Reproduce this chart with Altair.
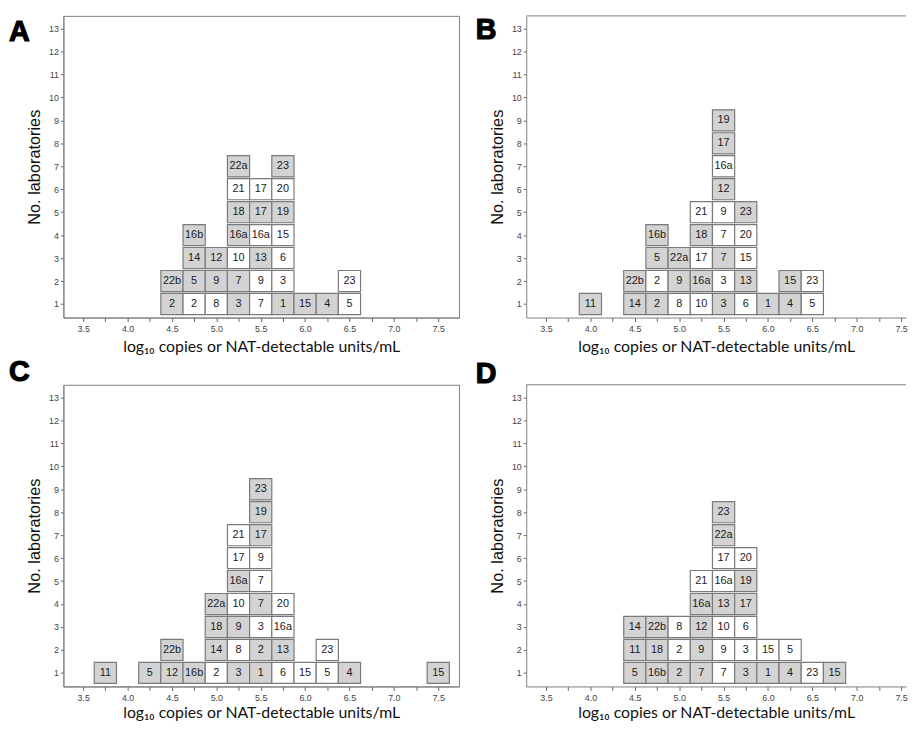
import altair as alt
import pandas as pd

# ---------------- data (label, bin centre on log10 scale, stack row, gray=1 / white=0)
A_label = ["2", "2", "8", "3", "7", "1", "15", "4", "5",
           "22b", "5", "9", "7", "9", "3", "23",
           "14", "12", "10", "13", "6",
           "16b", "16a", "16a", "15",
           "18", "17", "19",
           "21", "17", "20",
           "22a", "23"]
A_x = [4.5, 4.75, 5.0, 5.25, 5.5, 5.75, 6.0, 6.25, 6.5,
       4.5, 4.75, 5.0, 5.25, 5.5, 5.75, 6.5,
       4.75, 5.0, 5.25, 5.5, 5.75,
       4.75, 5.25, 5.5, 5.75,
       5.25, 5.5, 5.75,
       5.25, 5.5, 5.75,
       5.25, 5.75]
A_row = [1, 1, 1, 1, 1, 1, 1, 1, 1,
         2, 2, 2, 2, 2, 2, 2,
         3, 3, 3, 3, 3,
         4, 4, 4, 4,
         5, 5, 5,
         6, 6, 6,
         7, 7]
A_gray = [1, 0, 0, 1, 0, 1, 1, 1, 0,
          1, 1, 1, 1, 0, 0, 0,
          1, 1, 0, 1, 0,
          1, 1, 0, 0,
          1, 1, 1,
          0, 0, 0,
          1, 1]

B_label = ["11", "14", "2", "8", "10", "3", "6", "1", "4", "5",
           "22b", "2", "9", "16a", "3", "13", "15", "23",
           "5", "22a", "17", "7", "15",
           "16b", "18", "7", "20",
           "21", "9", "23",
           "12", "16a", "17", "19"]
B_x = [4.0, 4.5, 4.75, 5.0, 5.25, 5.5, 5.75, 6.0, 6.25, 6.5,
       4.5, 4.75, 5.0, 5.25, 5.5, 5.75, 6.25, 6.5,
       4.75, 5.0, 5.25, 5.5, 5.75,
       4.75, 5.25, 5.5, 5.75,
       5.25, 5.5, 5.75,
       5.5, 5.5, 5.5, 5.5]
B_row = [1, 1, 1, 1, 1, 1, 1, 1, 1, 1,
         2, 2, 2, 2, 2, 2, 2, 2,
         3, 3, 3, 3, 3,
         4, 4, 4, 4,
         5, 5, 5,
         6, 7, 8, 9]
B_gray = [1, 1, 1, 0, 0, 1, 0, 1, 1, 0,
          1, 0, 1, 1, 0, 1, 1, 0,
          1, 1, 0, 1, 0,
          1, 1, 0, 0,
          0, 0, 1,
          1, 0, 1, 1]

C_label = ["11", "5", "12", "16b", "2", "3", "1", "6", "15", "5", "4", "15",
           "22b", "14", "8", "2", "13", "23",
           "18", "9", "3", "16a",
           "22a", "10", "7", "20",
           "16a", "7",
           "17", "9",
           "21", "17",
           "19", "23"]
C_x = [3.75, 4.25, 4.5, 4.75, 5.0, 5.25, 5.5, 5.75, 6.0, 6.25, 6.5, 7.5,
       4.5, 5.0, 5.25, 5.5, 5.75, 6.25,
       5.0, 5.25, 5.5, 5.75,
       5.0, 5.25, 5.5, 5.75,
       5.25, 5.5,
       5.25, 5.5,
       5.25, 5.5,
       5.5, 5.5]
C_row = [1, 1, 1, 1, 1, 1, 1, 1, 1, 1, 1, 1,
         2, 2, 2, 2, 2, 2,
         3, 3, 3, 3,
         4, 4, 4, 4,
         5, 5,
         6, 6,
         7, 7,
         8, 9]
C_gray = [1, 1, 1, 1, 0, 1, 1, 0, 0, 0, 1, 1,
          1, 1, 0, 1, 1, 0,
          1, 1, 0, 0,
          1, 0, 1, 0,
          1, 0,
          0, 0,
          0, 1,
          1, 1]

D_label = ["5", "16b", "2", "7", "7", "3", "1", "4", "23", "15",
           "11", "18", "2", "9", "9", "3", "15", "5",
           "14", "22b", "8", "12", "10", "6",
           "16a", "13", "17",
           "21", "16a", "19",
           "17", "20",
           "22a", "23"]
D_x = [4.5, 4.75, 5.0, 5.25, 5.5, 5.75, 6.0, 6.25, 6.5, 6.75,
       4.5, 4.75, 5.0, 5.25, 5.5, 5.75, 6.0, 6.25,
       4.5, 4.75, 5.0, 5.25, 5.5, 5.75,
       5.25, 5.5, 5.75,
       5.25, 5.5, 5.75,
       5.5, 5.75,
       5.5, 5.5]
D_row = [1, 1, 1, 1, 1, 1, 1, 1, 1, 1,
         2, 2, 2, 2, 2, 2, 2, 2,
         3, 3, 3, 3, 3, 3,
         4, 4, 4,
         5, 5, 5,
         6, 6,
         7, 8]
D_gray = [1, 1, 1, 1, 0, 1, 1, 1, 0, 1,
          1, 1, 0, 1, 0, 0, 0, 0,
          1, 1, 0, 1, 0, 0,
          1, 1, 1,
          0, 0, 1,
          0, 0,
          1, 1]

x_tick_values = [3.5, 3.75, 4.0, 4.25, 4.5, 4.75, 5.0, 5.25, 5.5, 5.75,
                 6.0, 6.25, 6.5, 6.75, 7.0, 7.25, 7.5]
y_tick_values = [1, 2, 3, 4, 5, 6, 7, 8, 9, 10, 11, 12, 13]

X_TITLE = "log\u2081\u2080 copies or NAT-detectable units/mL"
Y_TITLE = "No. laboratories"

H = 305
PX_PER_UNIT = 89.75
X_MIN = 3.277
Y_DOMAIN = [0.41, 13.55]
FRAME = "#7f7f7f"


def panel(labels, xs, rows, grays, letter, lx, ly, width, title_pad, open_right):
    df = pd.DataFrame({"label": labels, "x": xs, "row": rows,
                       "shade": ["g" if g else "w" for g in grays]})
    xscale = alt.Scale(domain=[X_MIN, X_MIN + width / PX_PER_UNIT], nice=False, zero=False)
    yscale = alt.Scale(domain=Y_DOMAIN, nice=False, zero=False)
    base = alt.Chart(df).transform_calculate(
        x0="datum.x - 0.125", x1="datum.x + 0.125",
        y0="datum.row - 0.46", y1="datum.row + 0.46")
    xaxis = alt.Axis(values=x_tick_values,
                     labelExpr="(datum.value * 2) % 1 == 0 ? format(datum.value, '.1f') : ''",
                     labelOverlap=False, grid=False,
                     title=X_TITLE, titleFont="Lato", titleFontSize=16,
                     titleFontWeight="normal", titleColor="#111111", titlePadding=title_pad,
                     labelFont="Liberation Sans", labelFontSize=9, labelColor="#444444",
                     labelPadding=3, tickSize=4, tickColor="#666666",
                     domainColor=FRAME)
    yaxis = alt.Axis(values=y_tick_values, grid=False, labelOverlap=False,
                     title=Y_TITLE, titleFont="Liberation Sans", titleFontSize=16.5,
                     titleFontWeight="normal", titleColor="#111111", titlePadding=6,
                     labelFont="Liberation Sans", labelFontSize=9, labelColor="#444444",
                     labelPadding=2, tickSize=3, tickColor="#666666",
                     domainColor=FRAME)
    rects = base.mark_rect(stroke="#7a7a7a", strokeWidth=1.2).encode(
        x=alt.X("x0:Q", scale=xscale, axis=xaxis),
        x2="x1:Q",
        y=alt.Y("y0:Q", scale=yscale, axis=yaxis),
        y2="y1:Q",
        fill=alt.Fill("shade:N",
                      scale=alt.Scale(domain=["g", "w"], range=["#d3d3d3", "#ffffff"]),
                      legend=None),
    )
    texts = base.mark_text(font="Liberation Sans", fontSize=11, color="#1a1a1a").encode(
        x=alt.X("x:Q", scale=xscale, axis=xaxis),
        y=alt.Y("row:Q", scale=yscale, axis=yaxis),
        text="label:N",
    )
    one = pd.DataFrame({"t": [letter]})
    let = alt.Chart(one).mark_text(
        font="Liberation Sans", fontSize=29, fontWeight="bold", color="black",
        stroke="black", strokeWidth=1.2, align="left", baseline="middle").encode(
        x=alt.value(lx), y=alt.value(ly), text="t:N")
    layers = [rects, texts, let]
    props = dict(width=width, height=H)
    if open_right:
        # frame continues past the picture's right edge: draw only the top line
        top = alt.Chart(one).mark_rule(color=FRAME, strokeWidth=1).encode(
            x=alt.value(0), x2=alt.value(width), y=alt.value(0))
        layers.append(top)
        props["view"] = alt.ViewBackground(stroke="transparent")
    return alt.layer(*layers).properties(**props)


pA = panel(A_label, A_x, A_row, A_gray, "A", -55, 16, 400, 5, False)
pB = panel(B_label, B_x, B_row, B_gray, "B", -51, 14, 384, 5, True)
pC = panel(C_label, C_x, C_row, C_gray, "C", -55, -13, 400, 2, False)
pD = panel(D_label, D_x, D_row, D_gray, "D", -51, -11, 384, 2, True)

chart = alt.vconcat(
    alt.hconcat(pA, pB, spacing=15),
    alt.hconcat(pC, pD, spacing=15),
    spacing=2,
).properties(
    padding={"left": 0, "top": 3, "right": 0, "bottom": 0},
    background="white",
).configure_view(stroke=FRAME, strokeWidth=1).configure_axis(labelOverlap=False)

chart.save("out.html", embed_options={"renderer": "svg", "actions": False})
